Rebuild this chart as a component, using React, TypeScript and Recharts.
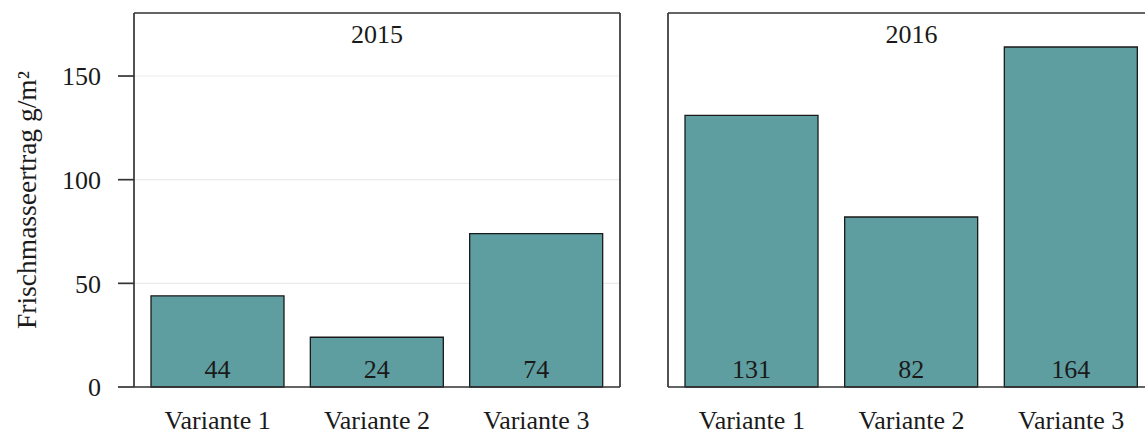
import { BarChart, Bar, XAxis, YAxis, CartesianGrid, LabelList } from "recharts";

const categories = ["Variante 1", "Variante 2", "Variante 3"];
const values2015 = [44, 24, 74];
const values2016 = [131, 82, 164];
const years = ["2015", "2016"];
const yTicks = [0, 50, 100, 150];
const yMax = 180.4;

const FONT = '"Liberation Serif", "Times New Roman", serif';
const TEXT = "#1a1a1a";
const FRAME = "#333333";

type PanelProps = {
  year: string;
  values: number[];
  first: boolean;
};

// one facet panel; the frame is drawn by the axis lines on all four sides
const Panel = ({ year, values, first }: PanelProps) => {
  const data = categories.map((name, i) => ({ name, value: values[i] }));
  return (
    <BarChart
      width={first ? 644 : 521}
      height={432}
      data={data}
      margin={{ top: 12, right: first ? 23 : 9, bottom: 0, left: first ? 0 : 23 }}
    >
      <CartesianGrid vertical={false} stroke="#ebebeb" strokeWidth={1.2} />
      <XAxis
        dataKey="name"
        height={45}
        padding={{ left: 4, right: 4 }}
        tickLine={false}
        tickSize={0}
        tickMargin={24}
        axisLine={{ stroke: FRAME, strokeWidth: 1.7 }}
        tick={{ fontSize: 26, fill: TEXT }}
      />
      <XAxis
        xAxisId="top"
        dataKey="name"
        orientation="top"
        height={1}
        tick={false}
        tickLine={false}
        axisLine={{ stroke: FRAME, strokeWidth: 1.7 }}
        label={{ value: year, position: "bottom", offset: 12, fontSize: 26, fill: TEXT }}
      />
      <YAxis
        domain={[0, yMax]}
        ticks={yTicks}
        width={first ? 134 : 1}
        tick={first ? { fontSize: 26, fill: TEXT } : false}
        tickLine={first ? { stroke: FRAME, strokeWidth: 1.7 } : false}
        tickSize={first ? 16 : 0}
        tickMargin={17}
        axisLine={{ stroke: FRAME, strokeWidth: 1.7 }}
        label={
          first
            ? {
                value: "Frischmasseertrag g/m²",
                angle: -90,
                position: "insideLeft",
                offset: 26,
                fontSize: 27.5,
                fill: TEXT,
                style: { textAnchor: "middle" },
              }
            : undefined
        }
      />
      <YAxis
        yAxisId="right"
        orientation="right"
        domain={[0, yMax]}
        width={1}
        tick={false}
        tickLine={false}
        axisLine={{ stroke: FRAME, strokeWidth: 1.7 }}
      />
      <Bar
        dataKey="value"
        barSize={133}
        fill="#5f9ea0"
        stroke="#1a1a1a"
        strokeWidth={1.3}
        isAnimationActive={false}
      >
        <LabelList dataKey="value" position="insideBottom" offset={9} fontSize={26} fill={TEXT} />
      </Bar>
    </BarChart>
  );
};

export default function App() {
  return (
    <div
      style={{
        position: "absolute",
        left: 0,
        top: 0,
        width: 1145,
        height: 432,
        overflow: "hidden",
        background: "#fff",
        fontFamily: FONT,
      }}
    >
      <div style={{ display: "flex", width: 1165 }}>
        <Panel year={years[0]} values={values2015} first={true} />
        <Panel year={years[1]} values={values2016} first={false} />
      </div>
    </div>
  );
}
